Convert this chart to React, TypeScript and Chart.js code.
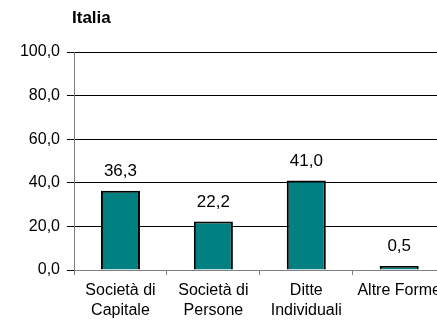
import React, { useEffect, useRef } from "react";
import { Chart, registerables } from "chart.js";

Chart.register(...registerables);

const categories: string[][] = [
  ["Società di", "Capitale"],
  ["Società di", "Persone"],
  ["Ditte", "Individuali"],
  ["Altre Forme"],
];
const values: number[] = [36.3, 22.2, 41.0, 0.5];
const chartTitle = "Italia";
const yMin = 0;
const yMax = 100;
const yStep = 20;

const FONT = "'Liberation Sans', Arial, Helvetica, sans-serif";
const fmt = (v: number) => v.toFixed(1).replace(".", ",");

const titlePlugin = {
  id: "customTitle",
  afterDraw(chart: any) {
    const ctx = chart.ctx;
    ctx.save();
    ctx.font = `bold 17px ${FONT}`;
    ctx.fillStyle = "#000";
    ctx.textAlign = "left";
    ctx.textBaseline = "middle";
    ctx.fillText(chartTitle, 72, 18);
    ctx.restore();
  },
};

const valueLabels = {
  id: "valueLabels",
  afterDatasetsDraw(chart: any) {
    const ctx = chart.ctx;
    const meta = chart.getDatasetMeta(0);
    ctx.save();
    ctx.font = `17px ${FONT}`;
    ctx.fillStyle = "#000";
    ctx.textAlign = "center";
    ctx.textBaseline = "alphabetic";
    meta.data.forEach((bar: any, i: number) => {
      ctx.fillText(fmt(values[i]), bar.x, bar.y - 15);
    });
    ctx.restore();
  },
};

export default function App() {
  const ref = useRef<HTMLCanvasElement | null>(null);
  useEffect(() => {
    document.body.style.margin = "0";
    document.body.style.overflow = "hidden";
    if (!ref.current) return;
    const chart = new Chart(ref.current, {
      type: "bar",
      data: {
        labels: categories,
        datasets: [
          {
            data: values,
            backgroundColor: "#008080",
            borderColor: "#000000",
            borderWidth: 2,
            minBarLength: 4,
            categoryPercentage: 1,
            barPercentage: 0.42,
          },
        ],
      },
      options: {
        responsive: false,
        animation: false,
        layout: { padding: { top: 52, left: 0, right: 0, bottom: 0 } },
        plugins: {
          legend: { display: false },
          tooltip: { enabled: false },
          title: { display: false },
        },
        scales: {
          x: {
            afterFit: (s: any) => {
              s.height = 50;
            },
            grid: {
              display: true,
              drawOnChartArea: false,
              drawTicks: true,
              tickLength: 5,
              color: "#808080",
              offset: true,
            },
            border: { display: true, color: "#808080", width: 1 },
            ticks: {
              color: "#000",
              padding: 6,
              maxRotation: 0,
              autoSkip: false,
              font: { family: FONT, size: 16, lineHeight: 1.25 },
            },
          },
          y: {
            min: yMin,
            max: yMax,
            afterFit: (s: any) => {
              s.width = 74;
            },
            grid: {
              color: "#000000",
              lineWidth: 1,
              drawTicks: true,
              tickLength: 7,
            },
            border: { display: true, color: "#808080", width: 1 },
            ticks: {
              stepSize: yStep,
              color: "#000",
              padding: 7,
              font: { family: FONT, size: 16 },
              callback: (v: any) => fmt(Number(v)),
            },
          },
        },
      },
      plugins: [titlePlugin, valueLabels],
    });
    return () => chart.destroy();
  }, []);
  return (
    <div style={{ width: 437, height: 320, overflow: "hidden", background: "#fff" }}>
      <canvas ref={ref} width={447} height={320} style={{ display: "block" }} />
    </div>
  );
}
